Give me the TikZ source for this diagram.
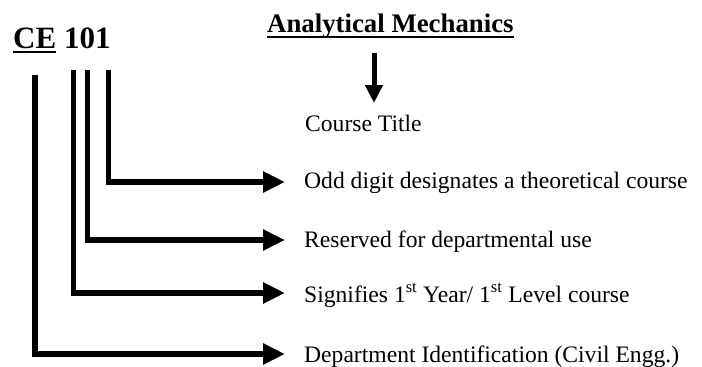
\documentclass[tikz,border=0pt]{standalone}
\usepackage{fontspec}
\setmainfont{Liberation Serif}
\usetikzlibrary{arrows.meta}
\begin{document}
\begin{tikzpicture}[x=1pt,y=-1pt,
  codefont/.style={inner sep=0pt, anchor=base west, font=\bfseries\fontsize{31}{36}\selectfont},
  titlefont/.style={inner sep=0pt, anchor=base west, font=\bfseries\fontsize{26.8}{32}\selectfont},
  lbl/.style={inner sep=0pt, anchor=base west, font=\fontsize{23.6}{28}\selectfont},
  lead/.style={line width=5.5pt, line join=miter, -{Triangle[length=22pt,width=20pt]}},
  downarrow/.style={line width=5pt, -{Triangle[length=18pt,width=17pt]}},
  uline/.style={line width=2.5pt}]
\useasboundingbox (0,0) rectangle (702,367);

% course code
\node[codefont] (ce) at (13,48) {CE};
\node[codefont] (num) at (64,48) {101};
\draw[uline] ([yshift=-4pt]ce.base west) -- ([yshift=-4pt]ce.base east);

% course title
\node[titlefont] (ttl) at (267,32) {Analytical Mechanics};
\draw[line width=2pt] ([yshift=-5pt]ttl.base west) -- ([yshift=-5pt]ttl.base east);
\coordinate (ttlarrow) at (374,53);
\coordinate (ttltip) at (374,103);
\node[lbl] (ct) at (305,131) {Course Title};
\draw[downarrow] (ttlarrow) -- (ttltip);

% leader starts under the characters
\coordinate (d1) at (35,75);
\coordinate (d2) at (73.5,70);
\coordinate (d3) at (87.5,70);
\coordinate (d4) at (108.5,70);

% arrow tips
\coordinate (t1) at (285,182);
\coordinate (t2) at (285,240);
\coordinate (t3) at (285,293);
\coordinate (t4) at (285,354);

\node[lbl] (odd) at (304,188) {Odd digit designates a theoretical course};
\node[lbl] (res) at (304,247) {Reserved for departmental use};
\node[lbl] (lev) at (304,302) {Signifies 1\textsuperscript{st} Year/ 1\textsuperscript{st} Level course};
\node[lbl] (dep) at (304,362) {Department Identification (Civil Engg.)};

\draw[lead] (d4) |- (t1);
\draw[lead] (d3) |- (t2);
\draw[lead] (d2) |- (t3);
\draw[lead] (d1) |- (t4);
\end{tikzpicture}
\end{document}
